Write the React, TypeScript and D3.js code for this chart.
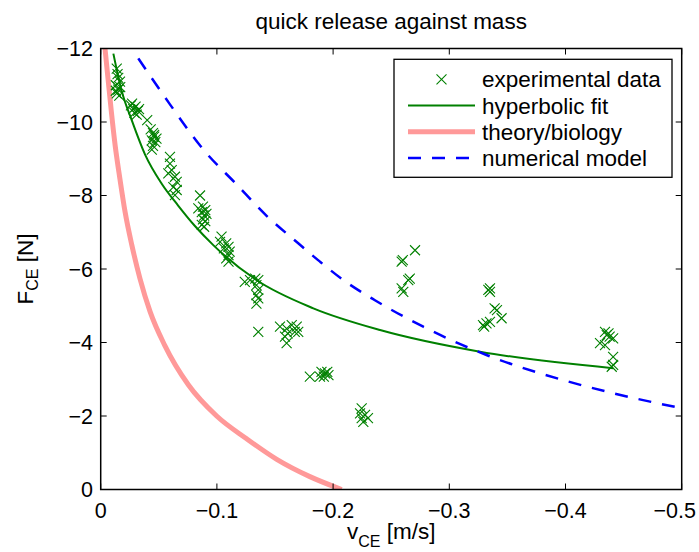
import React from "react";
import * as d3 from "d3";

// ---- data ----
const xTicks = [0, -0.1, -0.2, -0.3, -0.4, -0.5];
const yTicks = [0, -2, -4, -6, -8, -10, -12];

const expV = [
  -0.0138, -0.0151, -0.0166, -0.013, -0.0168, -0.0151, -0.0138, -0.016, -0.013, -0.0145,
  -0.026, -0.028, -0.03, -0.032, -0.029, -0.027, -0.031, -0.033,
  -0.04, -0.043, -0.045, -0.046, -0.044, -0.047, -0.045, -0.046, -0.048, -0.044,
  -0.0596, -0.0596, -0.0611, -0.0582, -0.0639, -0.0654, -0.0625, -0.0654, -0.0639,
  -0.0855, -0.084, -0.088, -0.09, -0.087, -0.089, -0.088, -0.09, -0.087, -0.089, -0.091,
  -0.104, -0.1027, -0.108, -0.11, -0.106, -0.111, -0.11, -0.108, -0.11,
  -0.124, -0.1285, -0.133, -0.1356, -0.134, -0.1356, -0.134, -0.1356, -0.134, -0.1356,
  -0.1543, -0.16, -0.1644, -0.1687, -0.167, -0.161, -0.16, -0.1586, -0.17,
  -0.18, -0.19, -0.193, -0.196, -0.1887, -0.192, -0.195,
  -0.2246, -0.2232, -0.2275, -0.2246, -0.23, -0.226,
  -0.259, -0.26, -0.2705, -0.2647, -0.266, -0.259, -0.2604,
  -0.335, -0.335, -0.3336, -0.339, -0.341, -0.345, -0.329, -0.332, -0.335, -0.33,
  -0.434, -0.4355, -0.438, -0.441, -0.4297, -0.434, -0.437, -0.441, -0.441, -0.4398,
];
const expF = [
  -11.45, -11.2, -11.1, -11.0, -10.95, -10.88, -10.78, -10.72, -10.85, -11.3,
  -10.45, -10.35, -10.42, -10.3, -10.25, -10.5, -10.2, -10.35,
  -10.05, -9.8, -9.7, -9.6, -9.5, -9.45, -9.35, -9.65, -9.55, -9.25,
  -9.05, -8.87, -8.69, -8.6, -8.51, -8.37, -8.23, -8.15, -8.01,
  -8.0, -7.65, -7.7, -7.6, -7.55, -7.45, -7.35, -7.3, -7.2, -7.15, -7.5,
  -6.88, -6.74, -6.7, -6.6, -6.56, -6.47, -6.38, -6.29, -6.2,
  -5.65, -5.7, -5.74, -5.7, -5.56, -5.43, -5.29, -5.2, -5.06, -4.29,
  -4.43, -4.38, -4.47, -4.43, -4.29, -4.25, -3.98, -4.16, -4.29,
  -3.07, -3.2, -3.16, -3.11, -3.07, -3.07, -3.2,
  -2.21, -2.07, -2.03, -1.94, -1.94, -1.84,
  -6.2, -6.24, -6.51, -5.7, -5.74, -5.47, -5.38,
  -5.47, -5.38, -5.43, -4.93, -4.88, -4.66, -4.47, -4.52, -4.56, -4.43,
  -4.29, -4.2, -4.16, -4.11, -3.98, -3.93, -4.25, -3.61, -3.39, -3.34,
];

const fitV = [-0.0109, -0.018, -0.0267, -0.0381, -0.0525, -0.0668, -0.0811, -0.0969, -0.134, -0.183, -0.2404, -0.3264, -0.441];
const fitF = [-11.86, -10.85, -10.05, -9.12, -8.32, -7.72, -7.17, -6.65, -5.7, -4.93, -4.34, -3.75, -3.3];

const theoryV = [-0.0037, -0.0063, -0.0092, -0.0124, -0.0165, -0.021, -0.0268, -0.0338, -0.0425, -0.055, -0.0754, -0.0998, -0.1256, -0.1515, -0.18, -0.2074];
const theoryF = [-12, -11.18, -10.27, -9.37, -8.46, -7.55, -6.65, -5.74, -4.84, -3.93, -2.85, -2.0, -1.38, -0.82, -0.35, 0];

const modelV = [-0.0324, -0.0596, -0.0883, -0.117, -0.143, -0.17, -0.1887, -0.2088, -0.236, -0.2776, -0.312, -0.332, -0.401, -0.441, -0.5];
const modelF = [-11.73, -10.48, -9.25, -8.3, -7.44, -6.7, -6.2, -5.7, -5.15, -4.43, -3.92, -3.66, -2.95, -2.62, -2.21];

const legendLabels = ["experimental data", "hyperbolic fit", "theory/biology", "numerical model"];

const GREEN = "#008000";
const BLUE = "#0000ff";
const PINK = "#ff9999";
const FONT = "'Liberation Sans', Arial, Helvetica, sans-serif";

const W = 699;
const H = 552;
const L = 100.7, R = 681.7, T = 48.5, B = 489.5;

function fmt(v: number) {
  if (v === 0) return "0";
  return "\u2212" + String(Math.abs(v));
}

export default function App() {
  const x = d3.scaleLinear().domain([0, -0.5]).range([L, R]);
  const y = d3.scaleLinear().domain([0, -12]).range([B, T]);

  const line = d3
    .line<[number, number]>()
    .x((d) => x(d[0]))
    .y((d) => y(d[1]))
    .curve(d3.curveMonotoneX);

  const zip = (a: number[], b: number[]) => a.map((v, i) => [v, b[i]] as [number, number]);

  const tickLen = 6;
  const ms = 5;
  const cross = (cx: number, cy: number, key: string | number) => (
    <path
      key={key}
      d={`M${cx - ms},${cy - ms}L${cx + ms},${cy + ms}M${cx - ms},${cy + ms}L${cx + ms},${cy - ms}`}
      stroke={GREEN}
      strokeWidth={1.1}
      fill="none"
    />
  );

  const legX = 394, legY = 59.3, legW = 278, legH = 118;
  const rowY = (i: number) => 79.3 + i * 26.2;

  return (
    <svg
      width={W}
      height={H}
      style={{ position: "absolute", left: 0, top: 0, background: "#fff" }}
      fontFamily={FONT}
    >
      <rect x={0} y={0} width={W} height={H} fill="#fff" />
      <defs>
        <clipPath id="plotClip">
          <rect x={L} y={T} width={R - L} height={B - T} />
        </clipPath>
      </defs>

      {/* title */}
      <text x={(L + R) / 2} y={29} textAnchor="middle" fontSize={22.5} fill="#000">
        quick release against mass
      </text>

      {/* series */}
      <g clipPath="url(#plotClip)">
        <path d={line(zip(theoryV, theoryF)) || ""} fill="none" stroke={PINK} strokeWidth={5} />
        <path d={line(zip(fitV, fitF)) || ""} fill="none" stroke={GREEN} strokeWidth={2} />
        <path
          d={line(zip(modelV, modelF)) || ""}
          fill="none"
          stroke={BLUE}
          strokeWidth={2.5}
          strokeDasharray="13 11"
        />
        {expV.map((v, i) => cross(x(v), y(expF[i]), i))}
      </g>

      {/* axes box */}
      <rect x={L} y={T} width={R - L} height={B - T} fill="none" stroke="#000" strokeWidth={1.5} />

      {/* x ticks */}
      {xTicks.map((t, i) => {
        const last = i === xTicks.length - 1;
        return (
          <g key={"x" + t}>
            <line x1={x(t)} x2={x(t)} y1={B} y2={B - tickLen} stroke="#000" strokeWidth={1} />
            <line x1={x(t)} x2={x(t)} y1={T} y2={T + tickLen} stroke="#000" strokeWidth={1} />
            <text
              x={last ? W - 3 : x(t)}
              y={518}
              textAnchor={last ? "end" : "middle"}
              fontSize={21.5}
              fill="#000"
            >
              {fmt(t)}
            </text>
          </g>
        );
      })}

      {/* y ticks */}
      {yTicks.map((t) => (
        <g key={"y" + t}>
          <line x1={L} x2={L + tickLen} y1={y(t)} y2={y(t)} stroke="#000" strokeWidth={1} />
          <line x1={R} x2={R - tickLen} y1={y(t)} y2={y(t)} stroke="#000" strokeWidth={1} />
          <text x={93} y={y(t)} dy="0.36em" textAnchor="end" fontSize={21.5} fill="#000">
            {fmt(t)}
          </text>
        </g>
      ))}

      {/* x label */}
      <text x={(L + R) / 2} y={539} textAnchor="middle" fontSize={22.5} fill="#000">
        v<tspan fontSize={16} dy={8}>CE</tspan>
        <tspan dy={-8}> [m/s]</tspan>
      </text>

      {/* y label */}
      <text
        transform={`translate(33,${(T + B) / 2}) rotate(-90)`}
        textAnchor="middle"
        fontSize={22.5}
        fill="#000"
      >
        F<tspan fontSize={16} dy={5}>CE</tspan>
        <tspan dy={-5}> [N]</tspan>
      </text>

      {/* legend */}
      <rect x={legX} y={legY} width={legW} height={legH} fill="#fff" stroke="#000" strokeWidth={1.3} />
      {cross(441.5, rowY(0), "leg")}
      <line x1={408} x2={475} y1={rowY(1)} y2={rowY(1)} stroke={GREEN} strokeWidth={2} />
      <line x1={408} x2={475} y1={rowY(2)} y2={rowY(2)} stroke={PINK} strokeWidth={5} />
      <line x1={408} x2={475} y1={rowY(3)} y2={rowY(3)} stroke={BLUE} strokeWidth={2.5} strokeDasharray="13 11" />
      {legendLabels.map((s, i) => (
        <text key={s} x={482} y={rowY(i)} dy="0.36em" fontSize={22.5} fill="#000">
          {s}
        </text>
      ))}
    </svg>
  );
}
